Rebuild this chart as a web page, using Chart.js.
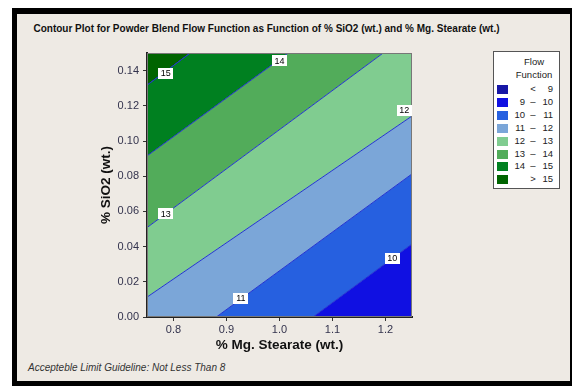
<!DOCTYPE html>
<html>
<head>
<meta charset="utf-8">
<script src="https://cdn.jsdelivr.net/npm/chart.js@4.4.1/dist/chart.umd.min.js"></script>
<style>
  body { margin: 0; background: #fff; width: 572px; height: 386px; overflow: hidden; position: relative; font-family: "Liberation Sans", Arial, sans-serif; }
  #frame { position: absolute; left: 12px; top: 8px; width: 560px; height: 378px; background: #000; }
  #panel { position: absolute; left: 17px; top: 14px; width: 553px; height: 367px; background: #eeeae4; }
  #title { position: absolute; left: 0; width: 533px; top: 23px; text-align: center; font-weight: bold; font-size: 10px; color: #111; white-space: nowrap; }
  #note { position: absolute; left: 28px; top: 362px; font-style: italic; font-size: 10px; color: #333; white-space: nowrap; }
  #wrap { position: absolute; left: 0; top: 0; width: 572px; height: 386px; }
  #legend { position: absolute; left: 493px; top: 51px; width: 65px; height: 136px; background: #fff; border: 1px solid #555; font-size: 9.5px; color: #222; }
  #legend .hd { position: absolute; left: 20px; width: 40px; text-align: center; }
  #legend .sw { position: absolute; left: 3px; width: 11px; height: 9px; }
  #legend .t { position: absolute; white-space: nowrap; }
</style>
</head>
<body>
<div id="frame"></div>
<div id="panel"></div>
<div id="title">Contour Plot for Powder Blend Flow Function as Function of % SiO2 (wt.) and % Mg. Stearate (wt.)</div>
<div id="note">Accepteble Limit Guideline: Not Less Than 8</div>
<div id="wrap"><canvas id="chart" width="572" height="386"></canvas></div>
<div id="legend"></div>
<script>
// ============================================
// DATA
// ============================================

// contour lines, straight: y value at the left (x=0.75) and right (x=1.25) edges
const levels = [10, 11, 12, 13, 14, 15];
const xEnds = [0.75, 1.25];
const yLeft = [-0.0696, -0.0288, 0.0113, 0.0508, 0.0915, 0.1317];
const yRight = [0.0415, 0.0813, 0.1142, 0.1621, 0.2012, 0.2437];

// band colours, lowest first
const bandNames = ['< 9', '9 - 10', '10 - 11', '11 - 12', '12 - 13', '13 - 14', '14 - 15', '> 15'];
const bandColors = ['#1717a6', '#1010e2', '#2660e0', '#7ba6d8', '#80cc90', '#52ac5a', '#008020', '#006400'];

// legend rows: low, sign, high
const legendLow = ['', '9', '10', '11', '12', '13', '14', ''];
const legendSign = ['<', '\u2013', '\u2013', '\u2013', '\u2013', '\u2013', '\u2013', '>'];
const legendHigh = ['9', '10', '11', '12', '13', '14', '15', '15'];

// contour labels
const labelText = ['15', '14', '12', '13', '11', '10'];
const labelX = [0.7855, 1.0, 1.2355, 0.7855, 0.927, 1.2128];
const labelY = [0.1385, 0.1456, 0.1176, 0.0587, 0.0106, 0.0335];

const xTicks = [0.8, 0.9, 1.0, 1.1, 1.2];
const yTicks = [0.00, 0.02, 0.04, 0.06, 0.08, 0.10, 0.12, 0.14];

// ============================================
// DATASETS
// ============================================

const lineColor = '#2434d0';
const datasets = levels.map((lv, i) => ({
    label: String(lv),
    data: [{ x: xEnds[0], y: yLeft[i] }, { x: xEnds[1], y: yRight[i] }],
    borderColor: lineColor,
    borderWidth: 1,
    pointRadius: 0,
    backgroundColor: bandColors[i + 1],
    fill: i === 0 ? 'start' : '-1'
}));
// top band above the last contour
const last = levels.length - 1;
datasets.push({
    label: '>' + levels[last],
    data: [{ x: xEnds[0], y: yLeft[last] }, { x: xEnds[1], y: yRight[last] }],
    borderColor: lineColor,
    borderWidth: 1,
    pointRadius: 0,
    backgroundColor: bandColors[last + 2],
    fill: 'end'
});

// ============================================
// PLUGINS
// ============================================

const frameAndLabels = {
    id: 'frameAndLabels',
    afterDatasetsDraw(chart) {
        const ctx = chart.ctx;
        const a = chart.chartArea;
        const xs = chart.scales.x, ys = chart.scales.y;
        ctx.save();
        ctx.strokeStyle = '#777';
        ctx.lineWidth = 1;
        ctx.strokeRect(a.left + 0.5, a.top + 0.5, a.right - a.left - 1, a.bottom - a.top - 1);
        ctx.font = '9px "Liberation Sans", Arial, sans-serif';
        ctx.textAlign = 'center';
        ctx.textBaseline = 'middle';
        labelText.forEach((t, i) => {
            const px = xs.getPixelForValue(labelX[i]);
            const py = ys.getPixelForValue(labelY[i]);
            ctx.fillStyle = '#fff';
            ctx.fillRect(Math.round(px - 7.5), Math.round(py - 5.5), 15, 11);
            ctx.fillStyle = '#000';
            ctx.fillText(t, px, py + 0.5);
        });
        ctx.restore();
    }
};

// ============================================
// CHART
// ============================================

const tickFont = { family: '"Liberation Sans", Arial, sans-serif', size: 11 };
const titleFont = { family: '"Liberation Sans", Arial, sans-serif', size: 13.5, weight: 'bold' };

new Chart(document.getElementById('chart'), {
    type: 'line',
    data: { datasets: datasets },
    options: {
        responsive: false,
        animation: false,
        layout: { padding: { left: 94, top: 53, right: 160, bottom: 29 } },
        plugins: { legend: { display: false }, tooltip: { enabled: false } },
        scales: {
            x: {
                type: 'linear',
                min: 0.75,
                max: 1.25,
                z: 1,
                afterFit(s) { s.height = 40; },
                afterBuildTicks(s) { s.ticks = xTicks.map(v => ({ value: v })); },
                ticks: { callback: v => v.toFixed(1), color: '#33334d', font: tickFont, padding: 2, maxRotation: 0 },
                grid: { drawOnChartArea: false, tickLength: 4, color: '#333' },
                border: { color: '#222', width: 2 },
                title: { display: true, text: '% Mg. Stearate (wt.)', font: titleFont, color: '#111' }
            },
            y: {
                type: 'linear',
                min: 0,
                max: 0.15,
                z: 1,
                afterFit(s) { s.width = 53; },
                afterBuildTicks(s) { s.ticks = yTicks.map(v => ({ value: v })); },
                ticks: { callback: v => v.toFixed(2), color: '#33334d', font: tickFont, padding: 4 },
                grid: { drawOnChartArea: false, tickLength: 4, color: '#333' },
                border: { color: '#222', width: 2 },
                title: { display: true, text: '% SiO2 (wt.)', font: titleFont, color: '#111' }
            }
        }
    },
    plugins: [frameAndLabels]
});

// ============================================
// LEGEND
// ============================================

function buildLegend() {
    const box = document.getElementById('legend');
    let html = '<div class="hd" style="top:4px">Flow</div><div class="hd" style="top:17px">Function</div>';
    bandNames.forEach((name, i) => {
        const top = 33 + i * 12.9;
        html += `<div class="sw" style="top:${top}px;background:${bandColors[i]}" title="${name}"></div>`;
        html += `<span class="t" style="top:${top - 2}px;left:16px;width:15px;text-align:right">${legendLow[i]}</span>`;
        html += `<span class="t" style="top:${top - 2}px;left:35px;width:8px;text-align:center">${legendSign[i]}</span>`;
        html += `<span class="t" style="top:${top - 2}px;left:44px;width:15px;text-align:right">${legendHigh[i]}</span>`;
    });
    box.innerHTML = html;
}

buildLegend();
</script>
</body>
</html>
